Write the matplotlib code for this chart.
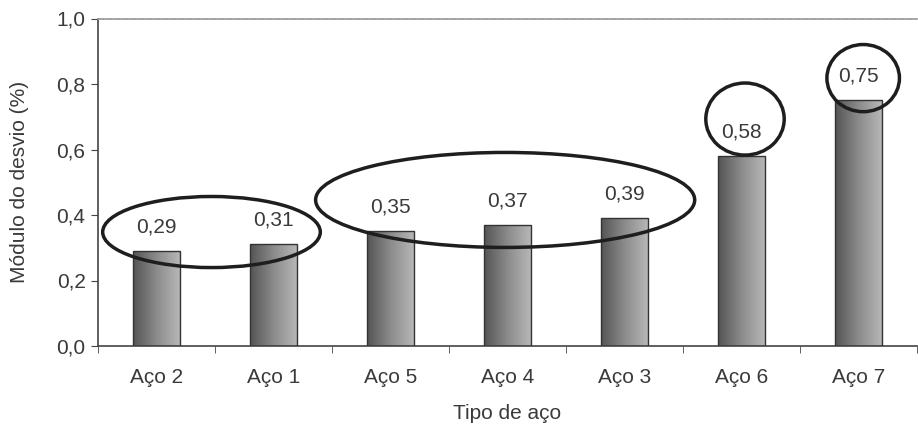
import matplotlib.pyplot as plt
import numpy as np
from matplotlib.colors import LinearSegmentedColormap
from matplotlib.patches import Ellipse

categories = ["Aço 2", "Aço 1", "Aço 5", "Aço 4", "Aço 3", "Aço 6", "Aço 7"]
values = [0.29, 0.31, 0.35, 0.37, 0.39, 0.58, 0.75]
y_ticks = [0.0, 0.2, 0.4, 0.6, 0.8, 1.0]

# groups highlighted with hand-drawn rings: (x centre, y centre, width, height)
rings = [
    (0.47, 0.348, 1.86, 0.217),
    (2.98, 0.446, 3.24, 0.290),
    (5.03, 0.693, 0.67, 0.220),
    (6.04, 0.818, 0.62, 0.205),
]

plt.rcParams["font.family"] = ["Liberation Sans", "DejaVu Sans"]

fig = plt.figure(figsize=(9.18, 4.29), dpi=100)
ax = fig.add_axes([98 / 918, 83 / 429, 819 / 918, 327.5 / 429])

x = np.arange(len(categories))
bar_width = 0.41
bars = ax.bar(x, values, width=bar_width, facecolor="none",
              edgecolor="#333333", linewidth=1.0, zorder=3)

# horizontal gray gradient inside each bar
shade = LinearSegmentedColormap.from_list("shade", ["#555555", "#8c8c8c", "#b8b8b8"])
grad = np.linspace(0, 1, 64)[np.newaxis, :]
for rect in bars:
    x0 = rect.get_x()
    h = rect.get_height()
    im = ax.imshow(grad, cmap=shade, aspect="auto", zorder=2,
                   extent=[x0, x0 + rect.get_width(), 0, h], interpolation="bicubic")
    im.set_clip_path(rect)

for xi, v in zip(x, values):
    ax.annotate(f"{v:.2f}".replace(".", ","), (xi, v), xytext=(0, 24),
                textcoords="offset pixels", ha="center", va="center",
                fontsize=15, color="#3a3a3a", zorder=5)

for cx, cy, w, h in rings:
    ax.add_patch(Ellipse((cx, cy), w, h, fill=False, edgecolor="#1e1e1e",
                         linewidth=2.5, zorder=6))

ax.set_xlim(-0.5, len(categories) - 0.5)
ax.set_ylim(0, 1.0)
ax.set_yticks(y_ticks)
ax.set_yticklabels([f"{t:.1f}".replace(".", ",") for t in y_ticks])
ax.set_xticks(x)
ax.set_xticklabels(categories)
ax.set_xticks(np.arange(-0.5, len(categories)), minor=True)
ax.tick_params(axis="x", which="major", length=0, pad=16, labelsize=15, labelcolor="#3a3a3a")
ax.tick_params(axis="x", which="minor", length=5, color="#444444", direction="out")
ax.tick_params(axis="y", length=5, color="#444444", labelsize=15, labelcolor="#3a3a3a", pad=4)

for side in ("left", "bottom"):
    ax.spines[side].set_color("#444444")
    ax.spines[side].set_linewidth(1.2)
ax.spines["right"].set_visible(False)
ax.spines["top"].set_color("#a0a0a0")
ax.spines["top"].set_linewidth(1.2)
ax.spines["top"].set_linestyle((0, (1, 0.6)))

ax.set_ylabel("Módulo do desvio (%)", fontsize=15, color="#3a3a3a", labelpad=20)
ax.set_xlabel("Tipo de aço", fontsize=15, color="#3a3a3a", labelpad=12)

fig.savefig("out.png", dpi=100, facecolor="white")
